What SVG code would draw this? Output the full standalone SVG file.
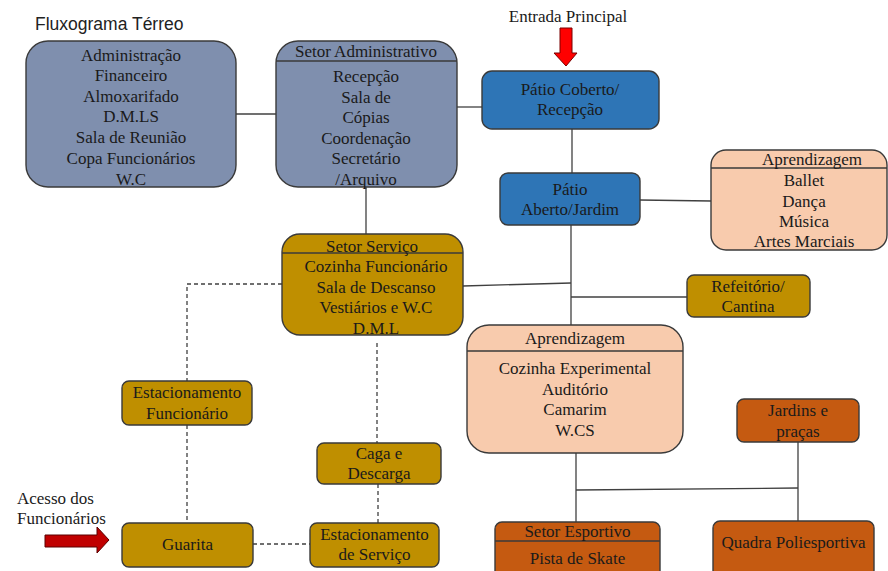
<svg xmlns="http://www.w3.org/2000/svg" width="888" height="571" viewBox="0 0 888 571">
<style>
.t{font-family:"Liberation Serif","Times New Roman",serif;font-size:17px;fill:#1a1a1a;text-anchor:middle}
.s{font-family:"Liberation Sans",Arial,sans-serif;font-size:17.5px;fill:#222}
.box{stroke:#3a3a3a;stroke-width:1.4}
.slate{fill:#7f8fae}
.blue{fill:#2e75b6}
.gold{fill:#bf8f00}
.peach{fill:#f8cbad}
.orange{fill:#c55a11}
.hdr{stroke:#3a3a3a;stroke-width:1.4}
.ln{stroke:#404040;stroke-width:1.3;fill:none}
.dash{stroke:#404040;stroke-width:1.3;fill:none;stroke-dasharray:4 3}
</style>
<rect width="888" height="571" fill="#ffffff"/>
<text class="s" x="35" y="30">Fluxograma Térreo</text>

<g id="connectors">
<line class="ln" x1="236" y1="114" x2="276" y2="114"/>
<line class="ln" x1="457" y1="107" x2="482" y2="107"/>
<line class="ln" x1="572" y1="129" x2="572" y2="173"/>
<line class="ln" x1="640" y1="200" x2="711" y2="201"/>
<line class="ln" x1="366" y1="187" x2="366" y2="234"/>
<line class="ln" x1="571" y1="225" x2="571" y2="325"/>
<line class="ln" x1="463" y1="286" x2="571" y2="283"/>
<line class="ln" x1="571" y1="297" x2="687" y2="297"/>
<line class="ln" x1="576" y1="453" x2="576" y2="522"/>
<line class="ln" x1="576" y1="490" x2="798" y2="488"/>
<line class="ln" x1="798" y1="442" x2="798" y2="521"/>
<polyline class="dash" points="282,284 187,284 187,381"/>
<line class="dash" x1="187" y1="425" x2="187" y2="523"/>
<line class="dash" x1="377" y1="343" x2="377" y2="443"/>
<line class="dash" x1="378" y1="484" x2="378" y2="523"/>
<line class="dash" x1="253" y1="544" x2="310" y2="544"/>
</g>

<g id="entrada-principal">
<text class="t" x="568" y="22">Entrada Principal</text>
<polygon points="560,28 572,28 572,53 577,53 566,66 554,53 560,53" fill="#ff0000" stroke="#7a0000" stroke-width="1"/>
</g>

<g id="acesso-funcionarios">
<text class="t" x="17" y="504" style="text-anchor:start">Acesso dos</text>
<text class="t" x="17" y="524" style="text-anchor:start">Funcionários</text>
<polygon points="45,535 97,535 97,527 109,540 97,553 97,547 45,547" fill="#c00000" stroke="#5a0000" stroke-width="1"/>
</g>

<g id="administracao">
<rect class="box slate" x="26" y="41" width="210" height="146" rx="22"/>
<text class="t" x="131" y="61">Administração</text>
<text class="t" x="131" y="81">Financeiro</text>
<text class="t" x="131" y="102">Almoxarifado</text>
<text class="t" x="131" y="122">D.M.LS</text>
<text class="t" x="131" y="143">Sala de Reunião</text>
<text class="t" x="131" y="164">Copa Funcionários</text>
<text class="t" x="131" y="185">W.C</text>
</g>

<g id="setor-administrativo">
<rect class="box slate" x="276" y="41" width="181" height="146" rx="22"/>
<line class="hdr" x1="276" y1="61" x2="457" y2="61"/>
<text class="t" x="366" y="57">Setor Administrativo</text>
<text class="t" x="366" y="82">Recepção</text>
<text class="t" x="366" y="102.5">Sala de</text>
<text class="t" x="366" y="123">Cópias</text>
<text class="t" x="366" y="143.5">Coordenação</text>
<text class="t" x="366" y="164">Secretário</text>
<text class="t" x="366" y="185">/Arquivo</text>
</g>

<g id="patio-coberto">
<rect class="box blue" x="482" y="71" width="177" height="58" rx="10"/>
<text class="t" x="570" y="95">Pátio Coberto/</text>
<text class="t" x="570" y="115">Recepção</text>
</g>

<g id="patio-aberto">
<rect class="box blue" x="500" y="173" width="140" height="52" rx="8"/>
<text class="t" x="570" y="195">Pátio</text>
<text class="t" x="570" y="215">Aberto/Jardim</text>
</g>

<g id="aprendizagem-artes">
<rect class="box peach" x="711" y="150" width="176" height="100" rx="15"/>
<line class="hdr" x1="711" y1="168" x2="887" y2="168"/>
<text class="t" x="812" y="165">Aprendizagem</text>
<text class="t" x="804" y="186">Ballet</text>
<text class="t" x="804" y="206.5">Dança</text>
<text class="t" x="804" y="227">Música</text>
<text class="t" x="804" y="247">Artes Marciais</text>
</g>

<g id="refeitorio">
<rect class="box gold" x="687" y="275" width="123" height="42" rx="7"/>
<text class="t" x="748" y="292">Refeitório/</text>
<text class="t" x="748" y="312">Cantina</text>
</g>

<g id="setor-servico">
<rect class="box gold" x="282" y="234" width="181" height="101" rx="18"/>
<line class="hdr" x1="282" y1="253" x2="463" y2="253"/>
<text class="t" x="372" y="252">Setor Serviço</text>
<text class="t" x="376" y="272">Cozinha Funcionário</text>
<text class="t" x="376" y="293">Sala de Descanso</text>
<text class="t" x="376" y="313">Vestiários e W.C</text>
<text class="t" x="376" y="334">D.M.L</text>
</g>

<g id="estacionamento-funcionario">
<rect class="box gold" x="122" y="381" width="130" height="44" rx="7"/>
<text class="t" x="187" y="398">Estacionamento</text>
<text class="t" x="187" y="419">Funcionário</text>
</g>

<g id="caga-descarga">
<rect class="box gold" x="317" y="443" width="124" height="41" rx="7"/>
<text class="t" x="379" y="459">Caga e</text>
<text class="t" x="379" y="479">Descarga</text>
</g>

<g id="guarita">
<rect class="box gold" x="122" y="523" width="131" height="44" rx="7"/>
<text class="t" x="187.5" y="550">Guarita</text>
</g>

<g id="estacionamento-servico">
<rect class="box gold" x="310" y="523" width="129" height="44" rx="7"/>
<text class="t" x="374.5" y="540">Estacionamento</text>
<text class="t" x="374.5" y="560">de Serviço</text>
</g>

<g id="aprendizagem-central">
<rect class="box peach" x="467" y="325" width="216" height="128" rx="22"/>
<line class="hdr" x1="467" y1="351" x2="683" y2="351"/>
<text class="t" x="575" y="344">Aprendizagem</text>
<text class="t" x="575" y="374">Cozinha Experimental</text>
<text class="t" x="575" y="395">Auditório</text>
<text class="t" x="575" y="415">Camarim</text>
<text class="t" x="575" y="436">W.CS</text>
</g>

<g id="jardins-pracas">
<rect class="box orange" x="737" y="399" width="122" height="43" rx="7"/>
<text class="t" x="798" y="416">Jardins e</text>
<text class="t" x="798" y="437">praças</text>
</g>

<g id="setor-esportivo">
<rect class="box orange" x="495" y="522" width="165" height="56" rx="7"/>
<line class="hdr" x1="495" y1="541" x2="660" y2="541"/>
<text class="t" x="577.5" y="537">Setor Esportivo</text>
<text class="t" x="577.5" y="564">Pista de Skate</text>
</g>

<g id="quadra-poliesportiva">
<rect class="box orange" x="713" y="521" width="161" height="56" rx="7"/>
<text class="t" x="793.5" y="548">Quadra Poliesportiva</text>
</g>
</svg>
